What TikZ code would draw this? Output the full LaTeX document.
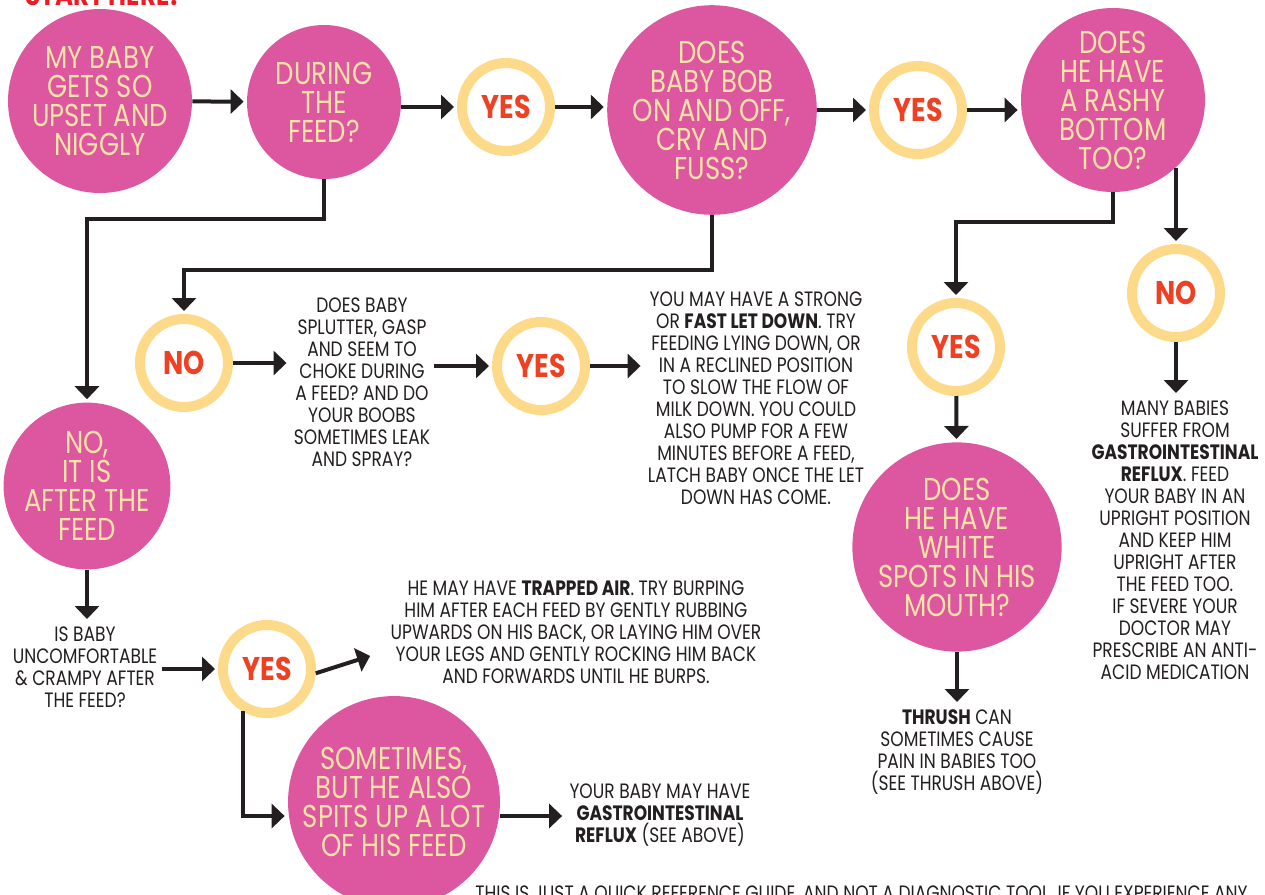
\documentclass[tikz,border=0pt]{standalone}
\usepackage{fontspec}
\setmainfont[FakeStretch=0.82]{Poppins}
\usepackage{tikz}
\usetikzlibrary{arrows.meta, positioning, calc}

\definecolor{bubblepink}{RGB}{221,87,160}
\definecolor{bubbletext}{RGB}{252,228,166}
\definecolor{ringyellow}{RGB}{253,217,138}
\definecolor{answerred}{RGB}{238,64,35}
\definecolor{ink}{RGB}{35,31,32}
\definecolor{startred}{RGB}{237,28,36}

\newcommand{\bubblefont}{\fontsize{15.8}{14.5}\selectfont}
\newcommand{\notefont}{\fontsize{10.4}{11}\selectfont}
\newcommand{\ringfont}{\fontsize{16.4}{16}\selectfont\bfseries}

\begin{document}
\begin{tikzpicture}[
        x=0.5pt, y=-0.5pt,
        bubble/.style={circle, fill=bubblepink, text=bubbletext, font=\bubblefont, align=center, inner sep=0pt},
        ring/.style={circle, draw=ringyellow, line width=5pt, minimum size=44pt, inner sep=0pt, text=answerred, font=\ringfont},
        note/.style={align=center, text=ink, font=\notefont, inner sep=2pt},
        arr/.style={draw=ink, line width=2pt, -{Triangle[length=6.5pt,width=12pt]}, shorten >=1.5pt},
      ]
      \useasboundingbox (0,0) rectangle (1265,895);
      \clip (0,0) rectangle (1265,895);

      \node[anchor=base west, text=startred, font=\fontsize{15}{15}\selectfont\bfseries, inner sep=0pt] (starthere) at (25,5) {START HERE!};

      \node[bubble, minimum size=92pt] (upset) at (100,101) {MY BABY\\ GETS SO\\ UPSET AND\\ NIGGLY};
      \node[bubble, minimum size=77pt] (during) at (324,102) {DURING\\ THE\\ FEED?};
      \node[ring] (yesA) at (506,107) {YES};
      \node[bubble, minimum size=99pt] (bob) at (712,110) {DOES\\ BABY BOB\\ ON AND OFF,\\ CRY AND\\ FUSS?};
      \node[ring] (yesB) at (918,110) {YES};
      \node[bubble, minimum size=92pt] (rashy) at (1113,100) {DOES\\ HE HAVE\\ A RASHY\\ BOTTOM\\ TOO?};

      \node[ring] (noB) at (1176,293) {NO};
      \node[note, anchor=north] (many) at (1175,396) {MANY BABIES\\ SUFFER FROM\\ \textbf{GASTROINTESTINAL}\\ \textbf{REFLUX}. FEED\\ YOUR BABY IN AN\\ UPRIGHT POSITION\\ AND KEEP HIM\\ UPRIGHT AFTER\\ THE FEED TOO.\\ IF SEVERE YOUR\\ DOCTOR MAY\\ PRESCRIBE AN ANTI-\\ ACID MEDICATION};

      \node[ring] (yesC) at (956,347) {YES};
      \node[bubble, minimum size=98pt] (spots) at (957,547) {DOES\\ HE HAVE\\ WHITE\\ SPOTS IN HIS\\ MOUTH?};
      \node[note, anchor=north] (thrush) at (957,705) {\textbf{THRUSH} CAN\\ SOMETIMES CAUSE\\ PAIN IN BABIES TOO\\ (SEE THRUSH ABOVE)};

      \node[ring] (noA) at (184,363) {NO};
      \node[note] (splutter) at (362,382) {DOES BABY\\ SPLUTTER, GASP\\ AND SEEM TO\\ CHOKE DURING\\ A FEED? AND DO\\ YOUR BOOBS\\ SOMETIMES LEAK\\ AND SPRAY?};
      \node[ring] (yesD) at (541,366) {YES};
      \node[note] (letdown) at (756,398) {YOU MAY HAVE A STRONG\\ OR \textbf{FAST LET DOWN}. TRY\\ FEEDING LYING DOWN, OR\\ IN A RECLINED POSITION\\ TO SLOW THE FLOW OF\\ MILK DOWN. YOU COULD\\ ALSO PUMP FOR A FEW\\ MINUTES BEFORE A FEED,\\ LATCH BABY ONCE THE LET\\ DOWN HAS COME.};

      \node[bubble, minimum size=78pt] (after) at (87,486) {NO,\\ IT IS\\ AFTER THE\\ FEED};
      \node[note, anchor=north] (crampy) at (85,622) {IS BABY\\ UNCOMFORTABLE\\ \& CRAMPY AFTER\\ THE FEED?};
      \node[ring] (yesE) at (267,669) {YES};
      \node[note] (trapped) at (576,632) {HE MAY HAVE \textbf{TRAPPED AIR}. TRY BURPING\\ HIM AFTER EACH FEED BY GENTLY RUBBING\\ UPWARDS ON HIS BACK, OR LAYING HIM OVER\\ YOUR LEGS AND GENTLY ROCKING HIM BACK\\ AND FORWARDS UNTIL HE BURPS.};
      \coordinate (trapin) at (373,655);
      \node[bubble, minimum size=98pt] (spits) at (394,802) {SOMETIMES,\\ BUT HE ALSO\\ SPITS UP A LOT\\ OF HIS FEED};
      \node[note] (reflux) at (660,815) {YOUR BABY MAY HAVE\\ \textbf{GASTROINTESTINAL}\\ \textbf{REFLUX} (SEE ABOVE)};

      \node[anchor=base west, text=ink, font=\notefont, inner sep=0pt] (disclaimer) at (475,900) {THIS IS JUST A QUICK REFERENCE GUIDE, AND NOT A DIAGNOSTIC TOOL. IF YOU EXPERIENCE ANY};

      \draw[arr] (upset) -- (during);
      \draw[arr] (yesA -| during.east) -- (yesA);
      \draw[arr] (yesA) -- (yesA -| bob.west);
      \draw[arr] (bob) -- (yesB);
      \draw[arr] (yesB) -- (yesB -| rashy.west);
      \draw[arr] (rashy.-47) -- (rashy.-47 |- noB.north);
      \draw[arr] (noB.south) -- (noB.south |- many.north);
      \draw[arr] (rashy.south) -- ++(0,30) -| (yesC.north);
      \draw[arr] (yesC) -- (spots);
      \draw[arr] (spots) -- (thrush);
      \draw[arr] (bob.south) -- ++(0,55) -| (noA.north);
      \draw[arr] (noA) -- (noA -| splutter.west);
      \draw[arr] (splutter.east |- yesD) -- (yesD);
      \draw[arr] (yesD) -- (yesD -| letdown.west);
      \draw[arr] (during.south) -- ++(0,40) -| (after.north);
      \draw[arr] (after.south) -- (after.south |- crampy.north);
      \draw[arr] (crampy.east |- yesE) -- (yesE);
      \draw[arr] (yesE.-5) -- (trapin);
      \draw[arr] (yesE.240) |- ([yshift=-7pt]spits.west);
      \draw[arr] ([yshift=-7pt]spits.east) -- ([yshift=-7pt]spits.east -| reflux.west);
\end{tikzpicture}
\end{document}
